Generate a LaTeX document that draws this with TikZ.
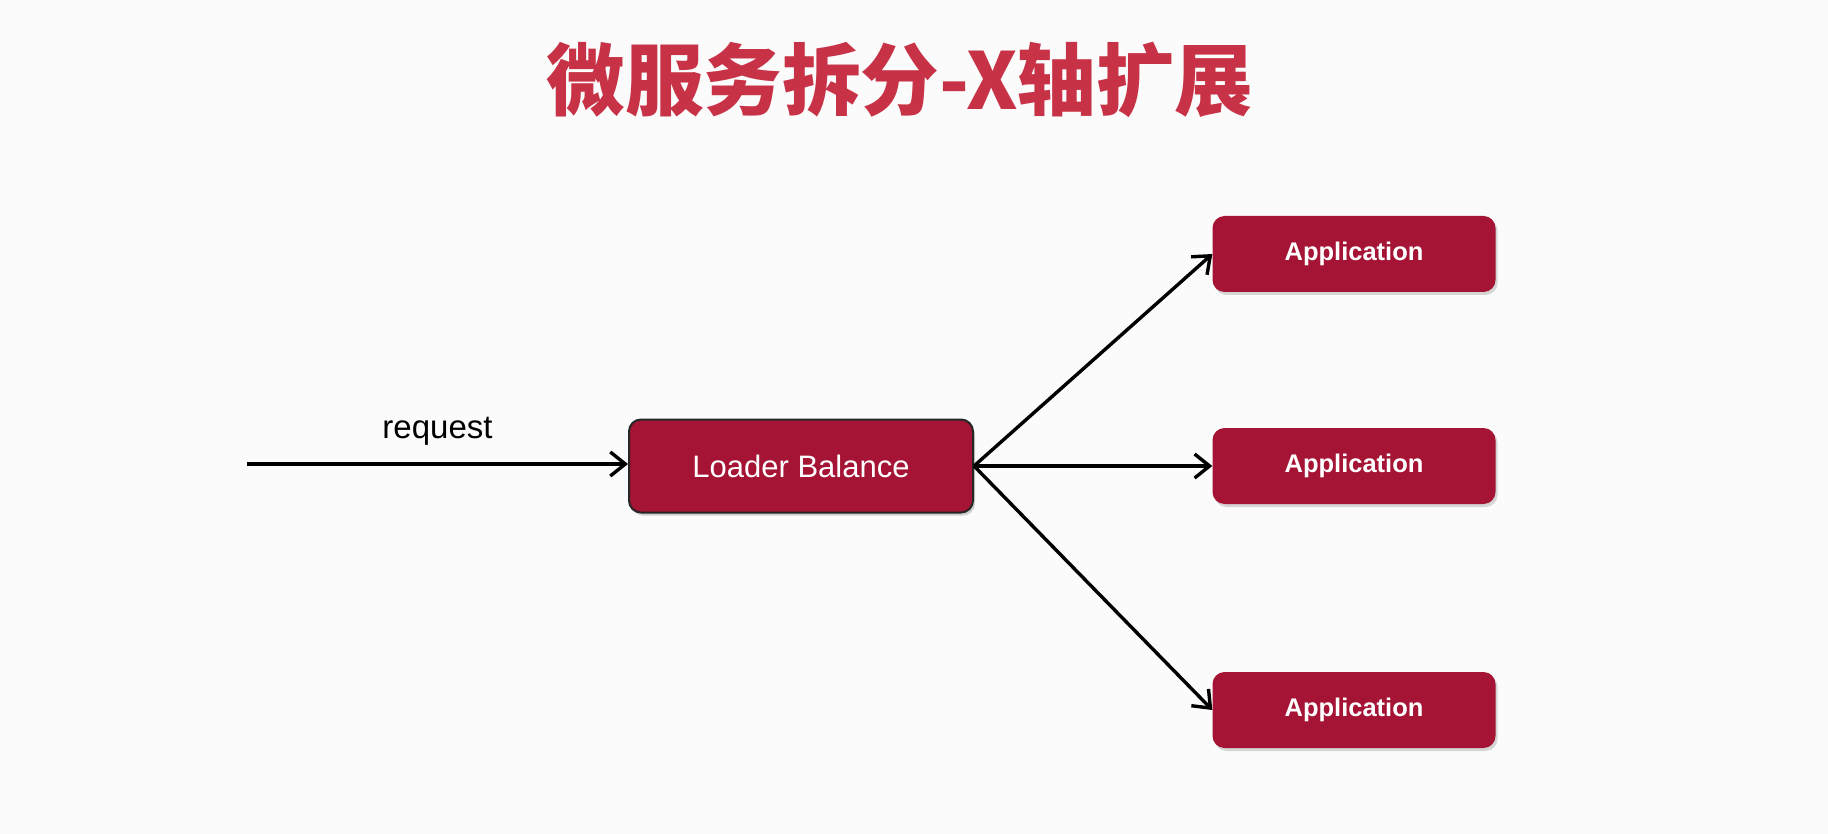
\documentclass[tikz,border=0pt]{standalone}
\usepackage{fontspec}
\setmainfont{Liberation Sans}
\newfontfamily\cjk{Noto Sans CJK SC}
\usetikzlibrary{arrows.meta,shadows}
\definecolor{boxred}{RGB}{165,20,52}
\definecolor{titlered}{RGB}{200,50,70}
\tikzset{
  lbbox/.style={draw=black!85, line width=2pt, fill=boxred, rounded corners=12pt,
    minimum width=344pt, minimum height=93pt, text=white, font=\fontsize{31}{34}\selectfont,
    drop shadow={shadow xshift=2pt, shadow yshift=-3pt, opacity=0.35}},
  appbox/.style={fill=boxred, rounded corners=12pt, minimum width=283pt, minimum height=76pt,
    text=white, font=\bfseries\fontsize{25.5}{28}\selectfont,
    drop shadow={shadow xshift=2pt, shadow yshift=-3pt, opacity=0.3}},
  conn/.style={line width=3.4pt, -{Straight Barb[length=15pt,width=24pt,line width=3.4pt]}}
}
\begin{document}
\begin{tikzpicture}[x=1pt,y=-1pt]
\fill[white!98.5!black] (0,0) rectangle (1828,834);
\useasboundingbox (0,0) rectangle (1828,834);
\node[text=titlered, font=\cjk\bfseries\fontsize{78.5}{82}\selectfont] (title) at (900,80) {微服务拆分-X轴扩展};
\node[lbbox] (lb) at (801,466) {Loader Balance};
\node[appbox] (a1) at (1354,254) {Application};
\node[appbox] (a2) at (1354,466) {Application};
\node[appbox] (a3) at (1354,710) {Application};
\coordinate (src) at (247,464);
\draw[conn] (src) -- (lb.west |- src) node[midway, above=14pt, text=black, font=\fontsize{33}{36}\selectfont] (req) {request};
\draw[conn] (lb.east) -- (a1.west);
\draw[conn] (lb.east) -- (a2.west);
\draw[conn] (lb.east) -- (a3.west);
\end{tikzpicture}
\end{document}
